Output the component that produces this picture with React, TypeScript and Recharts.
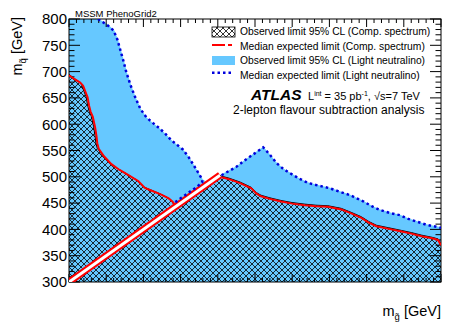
import React from 'react';
import { ComposedChart, Area, Line, XAxis, YAxis, Legend, ReferenceArea } from 'recharts';

const FONT = "'Liberation Sans', Arial, Helvetica, sans-serif";

// contour points [m_gluino, m_squark] in GeV
const lightObserved = [
  [300, 800], [340, 800], [352, 790], [361, 778], [366, 760], [370, 740], [374, 720], [378, 698],
  [384, 672], [390, 650], [397, 628], [405, 612], [414, 601], [422, 592], [431, 580], [439, 568],
  [447, 559], [454, 551], [462, 536], [469, 520], [475, 506], [480, 495], [487, 488], [504, 504],
  [525, 520], [543, 539], [561, 557], [570, 543], [579, 527], [588, 516], [597, 508], [610, 497],
  [622, 489], [636, 484], [651, 479], [665, 472], [678, 466], [696, 454], [707, 445], [718, 438],
  [732, 432], [745, 428], [756, 421], [767, 416], [780, 410], [794, 406], [800, 404],
];

const lightExpectedLeft = [
  [339, 800], [351, 789], [360, 778], [365, 761], [369, 741], [373, 721], [377, 699], [383, 673],
  [389, 651], [396, 629], [404, 613], [413, 602], [421, 593], [430, 581], [438, 569], [446, 560],
  [453, 552], [461, 537], [468, 521], [474, 507], [479, 495], [479, 489], [470, 479], [460, 469],
  [450, 459], [441, 450],
];

const lightExpectedRight = [
  [505, 503], [515, 511], [525, 519], [534, 529], [543, 538], [552, 547], [561, 556], [570, 542],
  [579, 526], [588, 515], [597, 507], [610, 496], [622, 488], [636, 483], [651, 478], [665, 471],
  [678, 465], [696, 453], [707, 444], [718, 437], [732, 431], [745, 427], [756, 420], [767, 415],
  [780, 409], [794, 405], [800, 403],
];

const compObserved = [
  [300, 695], [306, 688], [313, 681], [317, 675], [320, 663], [323, 652], [325, 636], [327, 625],
  [330, 615], [333, 596], [335, 578], [336, 565], [338, 554], [345, 541], [355, 526], [366, 515],
  [378, 505], [385, 499], [391, 494], [400, 481], [410, 475], [422, 468], [432, 461], [437, 456],
  [441, 447], [445, 445], [503, 503], [505, 501], [514, 498], [530, 490], [545, 480], [552, 470],
  [558, 465], [570, 460], [585, 455], [600, 451], [617, 448], [632, 446], [648, 445], [666, 440],
  [680, 432], [693, 424], [703, 415], [713, 408], [730, 403], [747, 398], [760, 394], [774, 389],
  [788, 385], [796, 382], [800, 373],
];

const compExpectedLeft = [
  [300, 693], [307, 686], [315, 679], [319, 673], [322, 662], [325, 651], [327, 635], [329, 624],
  [332, 614], [335, 595], [337, 577], [338, 564], [340, 553], [347, 539], [357, 524], [368, 513],
  [380, 503], [387, 497], [393, 492], [402, 479], [412, 473], [424, 466], [434, 459], [439, 453],
  [442, 447],
];

const compExpectedRight = [
  [505, 499], [514, 496], [530, 488], [545, 478], [552, 468], [558, 463], [570, 458], [585, 453],
  [600, 449], [617, 446], [632, 444], [648, 443], [666, 438], [680, 430], [693, 422], [703, 413],
  [713, 406], [730, 401], [747, 396], [760, 392], [774, 387], [788, 383], [796, 380], [800, 370],
];

// m_squark = m_gluino line
const diagonal = [[300, 300], [503, 503]];

const AXIS_MIN = 300;
const AXIS_MAX = 800;
const majorTicks = [300, 350, 400, 450, 500, 550, 600, 650, 700, 750, 800];
const minorTicks = Array.from({ length: 51 }, (_, i) => 300 + i * 10).filter((v) => !majorTicks.includes(v));

const legendLabels = [
  'Observed limit 95% CL (Comp. spectrum)',
  'Median expected limit (Comp. spectrum)',
  'Observed limit 95% CL (Light neutralino)',
  'Median expected limit (Light neutralino)',
];

const toPoints = (pairs: number[][]) => pairs.map(([x, y]) => ({ x, y }));

const LIGHT_BLUE = '#66c8ff';
const DOT_BLUE = '#0000dd';

const BottomLabel = ({ x, y, payload }: any) => (
  <text x={x} y={y + 15} textAnchor="middle" fontSize={15} fontFamily={FONT} fill="#000">
    {payload.value}
  </text>
);

const LeftLabel = ({ x, y, payload }: any) => (
  <text x={x - 2} y={y + 5.3} textAnchor="end" fontSize={15} fontFamily={FONT} fill="#000">
    {payload.value}
  </text>
);

// ROOT-style frame: box with inward ticks on all four sides
const Frame = ({ x, y, width, height }: any) => {
  const px = (v: number) => x + ((v - AXIS_MIN) / (AXIS_MAX - AXIS_MIN)) * width;
  const py = (v: number) => y + height - ((v - AXIS_MIN) / (AXIS_MAX - AXIS_MIN)) * height;
  const marks: React.ReactNode[] = [];
  const add = (v: number, xl: number, yl: number) => {
    const cx = px(v);
    const cy = py(v);
    marks.push(
      <line key={`b${v}`} x1={cx} x2={cx} y1={y + height} y2={y + height - xl} />,
      <line key={`t${v}`} x1={cx} x2={cx} y1={y} y2={y + xl} />,
      <line key={`l${v}`} x1={x} x2={x + yl} y1={cy} y2={cy} />,
      <line key={`r${v}`} x1={x + width} x2={x + width - yl} y1={cy} y2={cy} />,
    );
  };
  majorTicks.forEach((v) => add(v, 8, 11));
  minorTicks.forEach((v) => add(v, 4, 5.5));
  return (
    <g stroke="#000" strokeWidth={1} fill="none">
      <rect x={x} y={y} width={width} height={height} />
      {marks}
    </g>
  );
};

const LegendBox = () => (
  <svg width={245} height={64} style={{ display: 'block' }}>
    <defs>
      <pattern id="xhatchLeg" width={6} height={6} patternUnits="userSpaceOnUse">
        <path d="M0,0L6,6M6,0L0,6" stroke="#000" strokeWidth={0.8} />
      </pattern>
    </defs>
    <rect x={7} y={5} width={23} height={10} fill="url(#xhatchLeg)" stroke="#000" strokeWidth={0.8} />
    <line x1={7} x2={27} y1={23} y2={23} stroke="#ff0000" strokeWidth={2} strokeDasharray="13 3 4 3" />
    <rect x={7} y={34} width={23} height={9} fill={LIGHT_BLUE} />
    <line x1={7} x2={29} y1={50.7} y2={50.7} stroke={DOT_BLUE} strokeWidth={2.5} strokeDasharray="2.5 3" />
    {legendLabels.map((label, i) => (
      <text key={label} x={35} y={13.4 + i * 14.5} fontSize={10.3} fontFamily={FONT} fill="#000">
        {label}
      </text>
    ))}
  </svg>
);

export default function App() {
  return (
    <div style={{ position: 'absolute', left: 0, top: 0, width: 456, height: 328, background: '#fff' }}>
      <ComposedChart width={456} height={328} margin={{ top: 19, right: 15, bottom: 46, left: 9 }}>
        <defs>
          <pattern id="xhatch" width={6} height={6} patternUnits="userSpaceOnUse">
            <path d="M0,0L6,6M6,0L0,6" stroke="#000" strokeWidth={0.8} />
          </pattern>
        </defs>

        <Area data={toPoints(lightObserved)} dataKey="y" type="linear" baseValue={300}
          fill={LIGHT_BLUE} fillOpacity={1} stroke="none" isAnimationActive={false} />
        <Area data={toPoints(compObserved)} dataKey="y" type="linear" baseValue={300}
          fill="url(#xhatch)" fillOpacity={1} stroke="#000" strokeWidth={1} isAnimationActive={false} />

        <Line data={toPoints(diagonal)} dataKey="y" type="linear" stroke="#ff0000" strokeWidth={7}
          dot={false} isAnimationActive={false} />
        <Line data={toPoints(diagonal)} dataKey="y" type="linear" stroke="#ffffff" strokeWidth={3}
          dot={false} isAnimationActive={false} />
        <Line data={toPoints(compExpectedLeft)} dataKey="y" type="linear" stroke="#ff0000" strokeWidth={2}
          dot={false} isAnimationActive={false} />
        <Line data={toPoints(compExpectedRight)} dataKey="y" type="linear" stroke="#ff0000" strokeWidth={2}
          dot={false} isAnimationActive={false} />
        <Line data={toPoints(lightExpectedLeft)} dataKey="y" type="linear" stroke={DOT_BLUE} strokeWidth={2.5}
          strokeDasharray="2.5 3" dot={false} isAnimationActive={false} />
        <Line data={toPoints(lightExpectedRight)} dataKey="y" type="linear" stroke={DOT_BLUE} strokeWidth={2.5}
          strokeDasharray="2.5 3" dot={false} isAnimationActive={false} />

        <XAxis dataKey="x" type="number" domain={[AXIS_MIN, AXIS_MAX]} allowDataOverflow ticks={majorTicks}
          interval={0} height={0} tickSize={0} tickMargin={0} tickLine={false} axisLine={false}
          tick={(p: any) => <BottomLabel {...p} />} />
        <YAxis type="number" domain={[AXIS_MIN, AXIS_MAX]} allowDataOverflow ticks={majorTicks} interval={0}
          width={60} tickSize={0} tickMargin={0} tickLine={false} axisLine={false}
          tick={(p: any) => <LeftLabel {...p} />} />

        <ReferenceArea x1={AXIS_MIN} x2={AXIS_MAX} y1={AXIS_MIN} y2={AXIS_MAX} ifOverflow="visible"
          shape={(p: any) => <Frame {...p} />} />

        <Legend layout="vertical" align="center" verticalAlign="middle" content={() => <LegendBox />}
          wrapperStyle={{ left: 205, top: 22, width: 245, height: 64 }} />

        <text x={75} y={16.5} fontSize={9.5} fontFamily={FONT} fill="#000">MSSM PhenoGrid2</text>
        <text x={251} y={100} fontSize={15.5} fontWeight="bold" fontStyle="italic" fontFamily={FONT} fill="#000">ATLAS</text>
        <text x={308} y={99.5} fontSize={11} fontFamily={FONT} fill="#000">
          L<tspan fontSize={7} dy={-4}>int</tspan>
          <tspan dy={4}> = 35 pb</tspan>
          <tspan fontSize={7} dy={-4}>-1</tspan>
          <tspan dy={4}>, √s=7 TeV</tspan>
        </text>
        <text x={233} y={114} fontSize={12} fontFamily={FONT} fill="#000">2-lepton flavour subtraction analysis</text>

        <text x={441} y={316} textAnchor="end" fontSize={14.5} fontFamily={FONT} fill="#000">
          m<tspan fontSize={9.5} dy={4}>{'g\u0303'}</tspan>
          <tspan dy={-4}> [GeV]</tspan>
        </text>
        <text transform="translate(22,17) rotate(-90)" textAnchor="end" fontSize={14.5} fontFamily={FONT} fill="#000">
          m<tspan fontSize={9.5} dy={4}>{'q\u0303'}</tspan>
          <tspan dy={-4}> [GeV]</tspan>
        </text>
      </ComposedChart>
    </div>
  );
}
